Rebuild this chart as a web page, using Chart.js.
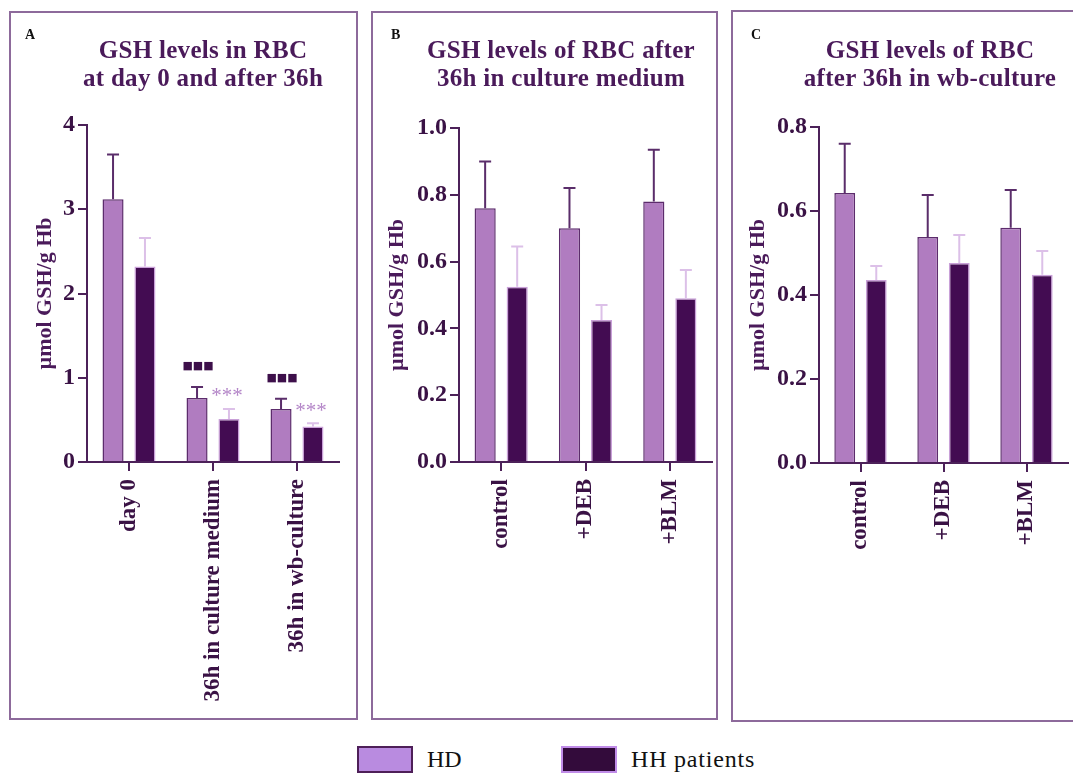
<!DOCTYPE html>
<html lang="en">
  <head>
    <title>GSH levels in RBC</title>
    <style>
      body { margin: 0; width: 1073px; height: 776px; overflow: hidden; background: #fff; position: relative; font-family: "Liberation Serif", serif; }
      .panel { position: absolute; border: 2px solid #8d6a9b; box-sizing: border-box; }
      .panel canvas { position: absolute; left: 0; top: 0; }
      .letter { position: absolute; font: bold 14px/14px "Liberation Serif"; color: #111; }
      .title { position: absolute; font: bold 25px/28px "Liberation Serif"; color: #4a1a5a; text-align: center; white-space: nowrap; width: 360px; letter-spacing: 0.3px; }
      .legend { position: absolute; top: 745px; height: 28px; display: flex; align-items: center; font: 24px "Liberation Serif"; color: #111; }
      .swatch { width: 56px; height: 27px; box-sizing: border-box; margin-right: 14px; }
    </style>
  </head>
  <body>
    <div class="panel" style="left:9px; top:11px; width:349px; height:709px;">
      <canvas id="chartA" width="345" height="705"></canvas>
    </div>
    <div class="panel" style="left:371px; top:11px; width:347px; height:709px;">
      <canvas id="chartB" width="343" height="705"></canvas>
    </div>
    <div class="panel" style="left:731px; top:10px; width:360px; height:712px;">
      <canvas id="chartC" width="356" height="708"></canvas>
    </div>

    <div class="letter" style="left:25px; top:28px;">A</div>
    <div class="letter" style="left:391px; top:28px;">B</div>
    <div class="letter" style="left:751px; top:28px;">C</div>

    <div class="title" style="left:23px; top:36px;">GSH levels in RBC<br>at day 0 and after 36h</div>
    <div class="title" style="left:381px; top:36px;">GSH levels of RBC after<br>36h in culture medium</div>
    <div class="title" style="left:750px; top:36px;">GSH levels of RBC<br>after 36h in wb-culture</div>

    <div class="legend" style="left:357px;"><div class="swatch" style="background:#b98be0; border:2px solid #4e1f58;"></div>HD</div>
    <div class="legend" style="left:561px; letter-spacing:0.8px;"><div class="swatch" style="background:#330b3b; border:2px solid #c08ce8;"></div>HH patients</div>

    <script src="https://cdn.jsdelivr.net/npm/chart.js@4.4.1/dist/chart.umd.min.js"></script>
    <script>
      // panel A
      const labelsA = ["day 0", "36h in culture medium", "36h in wb-culture"];
      const hdA = [3.12, 0.76, 0.63];
      const hdErrA = [0.53, 0.13, 0.12];
      const hhA = [2.32, 0.51, 0.42];
      const hhErrA = [0.34, 0.12, 0.04];
      const hdMarksA = ["", "■■■", "■■■"];
      const hhMarksA = ["", "***", "***"];

      // panel B
      const labelsB = ["control", "+DEB", "+BLM"];
      const hdB = [0.76, 0.70, 0.78];
      const hdErrB = [0.14, 0.12, 0.155];
      const hhB = [0.525, 0.425, 0.49];
      const hhErrB = [0.12, 0.045, 0.085];

      // panel C
      const labelsC = ["control", "+DEB", "+BLM"];
      const hdC = [0.643, 0.538, 0.56];
      const hdErrC = [0.117, 0.10, 0.09];
      const hhC = [0.436, 0.476, 0.448];
      const hhErrC = [0.033, 0.067, 0.057];

      const axisColor = '#4c2159';
      const textColor = '#3a1245';

      const errorBars = {
        id: 'errorBars',
        afterDatasetsDraw(chart) {
          const ctx = chart.ctx;
          const y = chart.scales.y;
          chart.data.datasets.forEach((ds, i) => {
            const meta = chart.getDatasetMeta(i);
            meta.data.forEach((bar, j) => {
              const top = y.getPixelForValue(ds.data[j] + ds.err[j]);
              ctx.save();
              ctx.strokeStyle = ds.errColor;
              ctx.lineWidth = 2;
              ctx.beginPath();
              ctx.moveTo(bar.x, bar.y);
              ctx.lineTo(bar.x, top);
              ctx.moveTo(bar.x - 6, top);
              ctx.lineTo(bar.x + 6, top);
              ctx.stroke();
              if (ds.marks && ds.marks[j]) {
                ctx.fillStyle = ds.markColor;
                ctx.font = ds.markFont;
                ctx.textAlign = 'center';
                ctx.textBaseline = 'middle';
                ctx.fillText(ds.marks[j], bar.x + ds.markShift, top - ds.markGap);
              }
              ctx.restore();
            });
          });
        }
      };

      function makeChart(id, labels, hd, hdErr, hh, hhErr, yMax, yStep, digits, box, marks) {
        const hdSet = {
          label: 'HD', data: hd, err: hdErr, errColor: '#5a2d6a',
          backgroundColor: '#b07cc0', borderColor: '#5c2c6c', borderWidth: 1.5,
          categoryPercentage: 0.76, barPercentage: 0.66
        };
        const hhSet = {
          label: 'HH patients', data: hh, err: hhErr, errColor: '#dcc0e8',
          backgroundColor: '#430c52', borderColor: '#c9a0d8', borderWidth: 1.5,
          categoryPercentage: 0.76, barPercentage: 0.66
        };
        if (marks) {
          Object.assign(hdSet, { marks: marks[0], markColor: '#3d0f4a', markFont: 'bold 11px "DejaVu Sans"', markGap: 21, markShift: 1 });
          Object.assign(hhSet, { marks: marks[1], markColor: '#b486c8', markFont: '21px "Liberation Serif"', markGap: 12, markShift: -2 });
        }
        return new Chart(document.getElementById(id), {
          type: 'bar',
          data: { labels: labels, datasets: [hdSet, hhSet] },
          options: {
            responsive: false,
            animation: false,
            layout: { padding: { top: box.top, right: box.right, left: 0, bottom: 0 } },
            plugins: { legend: { display: false }, tooltip: { enabled: false } },
            scales: {
              x: {
                grid: { offset: false, drawOnChartArea: false, drawTicks: true, tickLength: 9, color: axisColor, lineWidth: 2 },
                border: { color: axisColor, width: 2 },
                ticks: {
                  minRotation: 90, maxRotation: 90, autoSkip: false, padding: 8,
                  color: textColor, font: { family: 'Liberation Serif', size: 23, weight: 'bold' }
                },
                afterFit: s => { s.height = box.xHeight; }
              },
              y: {
                min: 0, max: yMax,
                grid: { drawOnChartArea: false, drawTicks: true, tickLength: 9, color: axisColor, lineWidth: 2 },
                border: { color: axisColor, width: 2 },
                ticks: {
                  stepSize: yStep, padding: 3, color: textColor,
                  font: { family: 'Liberation Serif', size: 24, weight: 'bold' },
                  callback: v => Number(v).toFixed(digits)
                },
                title: {
                  display: true, text: 'µmol GSH/g Hb', color: '#4a1a5a',
                  font: { family: 'Liberation Serif', size: 22, weight: 'bold' },
                  padding: { top: box.titlePad, bottom: 0 }
                },
                afterFit: s => { s.width = box.yWidth; }
              }
            }
          },
          plugins: [errorBars]
        });
      }

      makeChart('chartA', labelsA, hdA, hdErrA, hhA, hhErrA, 4, 1, 0,
        { top: 112, right: 17, xHeight: 256, yWidth: 76, titlePad: 21 }, [hdMarksA, hhMarksA]);
      makeChart('chartB', labelsB, hdB, hdErrB, hhB, hhErrB, 1.0, 0.2, 1,
        { top: 115, right: 4, xHeight: 256, yWidth: 86, titlePad: 11 });
      makeChart('chartC', labelsC, hdC, hdErrC, hhC, hhErrC, 0.8, 0.2, 1,
        { top: 115, right: 21, xHeight: 257, yWidth: 86, titlePad: 12 });
    </script>
  </body>
</html>
